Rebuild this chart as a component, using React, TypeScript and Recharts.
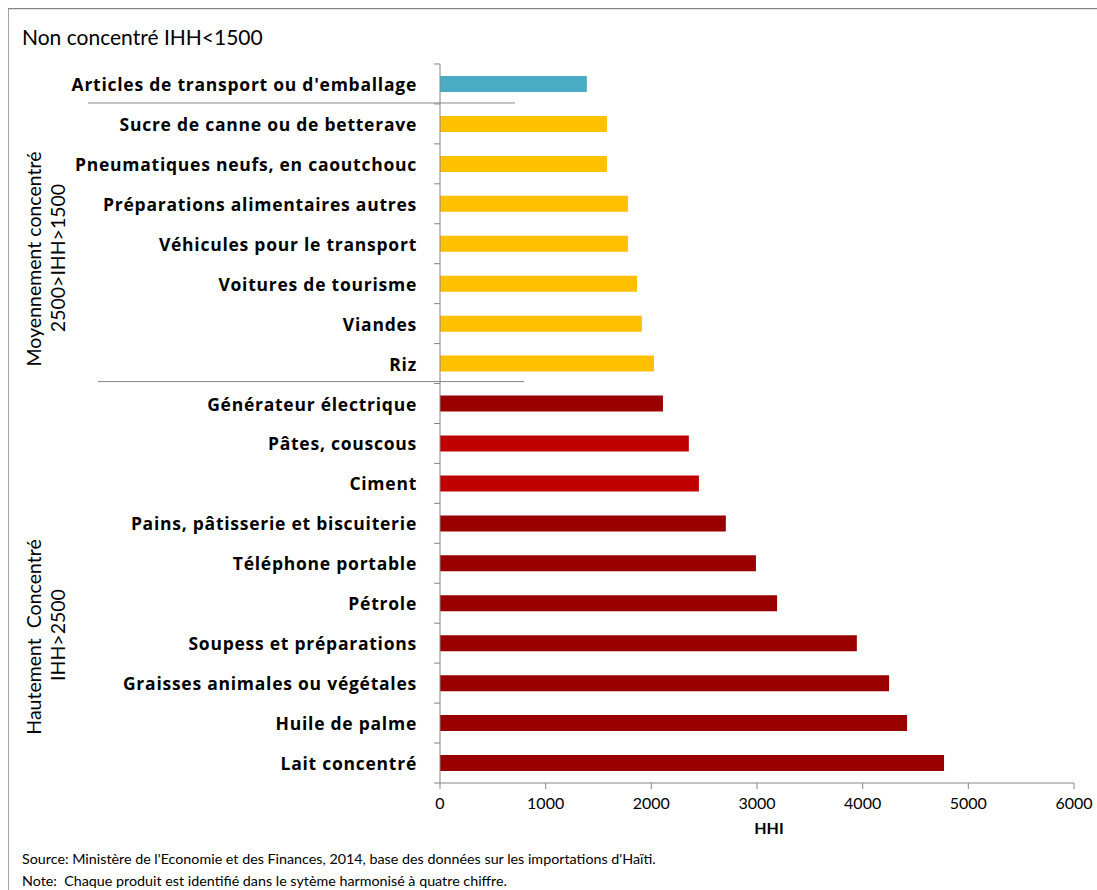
import React from "react";
import { BarChart, Bar, XAxis, YAxis, Cell, Label } from "recharts";

const products = [
  "Articles de transport ou d'emballage",
  "Sucre de canne ou de betterave ",
  "Pneumatiques neufs, en caoutchouc",
  "Préparations alimentaires autres",
  "Véhicules pour le transport",
  "Voitures de tourisme",
  "Viandes",
  "Riz",
  "Générateur électrique",
  "Pâtes, couscous",
  "Ciment",
  "Pains, pâtisserie et biscuiterie",
  "Téléphone portable",
  "Pétrole",
  "Soupess et préparations",
  "Graisses animales ou végétales",
  "Huile de palme",
  "Lait concentré",
];

const hhi = [
  1390, 1580, 1580, 1780, 1780, 1865, 1910, 2025, 2110, 2355, 2450, 2705,
  2990, 3190, 3945, 4250, 4420, 4770,
];

const xTicks = [0, 1000, 2000, 3000, 4000, 5000, 6000];

// couleur par produit (groupe de concentration)
const barColors = [
  "#4BACC6",
  "#FFC000", "#FFC000", "#FFC000", "#FFC000", "#FFC000", "#FFC000", "#FFC000",
  "#990000", "#C00000", "#C00000", "#990000", "#990000", "#990000", "#990000",
  "#990000", "#990000", "#990000",
];

const data = products.map((name, i) => ({ name, hhi: hhi[i] }));

const AXIS = "#868686";
const FONT = "Lato, 'Open Sans', sans-serif";

function ProductTick(props: any) {
  const { x, y, payload, index } = props;
  const last = index === products.length - 1;
  return (
    <g>
      <line x1={x - 6} x2={x} y1={y - 20} y2={y - 20} stroke={AXIS} />
      {last && <line x1={x - 6} x2={x} y1={y + 20} y2={y + 20} stroke={AXIS} />}
      {index === 0 && (
        <line x1={x - 352} x2={x + 75} y1={y + 19} y2={y + 19} stroke={AXIS} />
      )}
      {index === 7 && (
        <line x1={x - 342} x2={x + 84} y1={y + 18} y2={y + 18} stroke={AXIS} />
      )}
      <text
        x={x - 23}
        y={y}
        textAnchor="end"
        dominantBaseline="central"
        fontFamily="'Open Sans', sans-serif"
        fontWeight={700}
        fontSize={17.5}
        letterSpacing={0.75}
        fill="#000"
      >
        {payload.value}
      </text>
    </g>
  );
}

export default function App() {
  return (
    <div style={{ position: "relative", width: 1089, height: 882, fontFamily: FONT }}>
      <style>{"html{overflow:hidden} body{margin:8px 0 0 8px}"}</style>
      <BarChart
        width={1089}
        height={882}
        data={data}
        layout="vertical"
        margin={{ top: 56, right: 23, bottom: 77, left: 0 }}
        barSize={16}
      >
        <XAxis
          type="number"
          domain={[0, 6000]}
          ticks={xTicks}
          interval={0}
          height={30}
          axisLine={{ stroke: AXIS }}
          tickLine={{ stroke: AXIS }}
          tickSize={6}
          tickMargin={9}
          tick={{ fill: "#000", fontSize: 16, fontFamily: FONT }}
        >
          <Label
            value="HHI"
            position="bottom"
            offset={10}
            dx={12}
            style={{ fill: "#000", fontSize: 16, fontWeight: 700, fontFamily: FONT }}
          />
        </XAxis>
        <YAxis
          type="category"
          dataKey="name"
          width={432}
          interval={0}
          axisLine={{ stroke: AXIS }}
          tickLine={false}
          tickSize={0}
          tickMargin={0}
          tick={<ProductTick />}
        />
        <Bar dataKey="hhi" isAnimationActive={false}>
          {data.map((d, i) => (
            <Cell key={d.name} fill={barColors[i]} />
          ))}
        </Bar>
      </BarChart>
      <svg
        width={1089}
        height={882}
        style={{ position: "absolute", left: 0, top: 0, pointerEvents: "none" }}
      >
        <line x1={0} x2={1089} y1={0.5} y2={0.5} stroke={AXIS} strokeWidth={1.5} />
        <line x1={0} x2={0} y1={0} y2={882} stroke={AXIS} strokeWidth={1.5} />
        <text x={14} y={37} fontSize={21} fontFamily={FONT} fill="#000">
          Non concentré IHH&lt;1500
        </text>
        <g fontSize={19.5} fontFamily={FONT} fill="#000" textAnchor="middle" dominantBaseline="central">
          <text transform="translate(25,251) rotate(-90)">Moyennement concentré</text>
          <text transform="translate(49,250) rotate(-90)">2500&gt;IHH&gt;1500</text>
          <text transform="translate(25,629) rotate(-90)" style={{ whiteSpace: "pre" }}>
            Hautement  Concentré
          </text>
          <text transform="translate(49,627) rotate(-90)">IHH&gt;2500</text>
        </g>
        <g fontSize={14.3} fontFamily={FONT} fill="#000">
          <text x={14} y={856}>
            Source: Ministère de l'Economie et des Finances, 2014, base des données sur les importations d'Haïti.
          </text>
          <text x={14} y={878} style={{ whiteSpace: "pre" }}>
            Note:  Chaque produit est identifié dans le sytème harmonisé à quatre chiffre.
          </text>
        </g>
      </svg>
    </div>
  );
}
